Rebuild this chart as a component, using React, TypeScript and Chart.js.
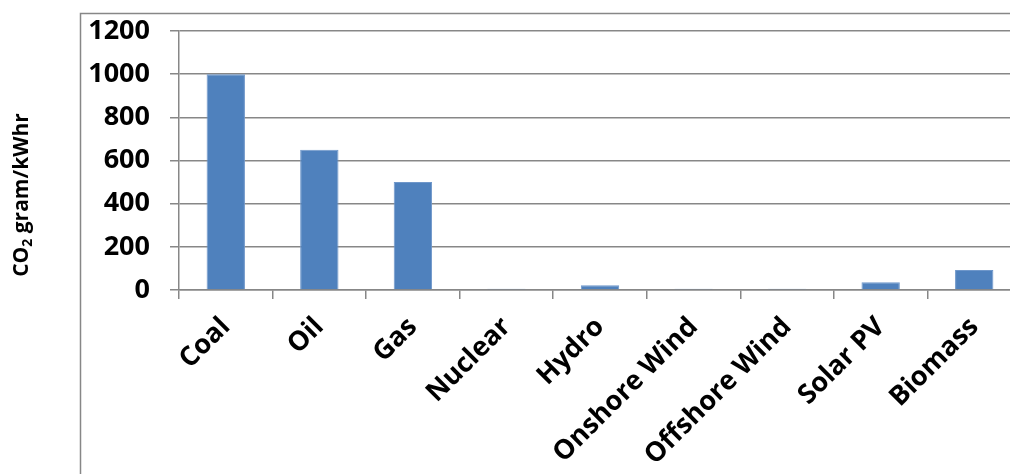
import React, { useEffect, useRef } from "react";
import { Chart, registerables } from "chart.js";

Chart.register(...registerables);

const categories = ["Coal", "Oil", "Gas", "Nuclear", "Hydro", "Onshore Wind", "Offshore Wind", "Solar PV", "Biomass"];
const co2Values = [1000, 650, 500, 6, 22, 6, 6, 36, 93];
const yTicks = [0, 200, 400, 600, 800, 1000, 1200];
const yTitleMain = "CO";
const yTitleSub = "2";
const yTitleRest = " gram/kWhr";

const FONT = "'Open Sans', 'Noto Sans', sans-serif";
const GRAY = "#878787";

const framePlugin = {
  id: "frameAndTitle",
  beforeDraw(chart: any) {
    const ctx = chart.ctx;
    ctx.save();
    ctx.fillStyle = "#ffffff";
    ctx.fillRect(0, 0, chart.width, chart.height);
    ctx.strokeStyle = GRAY;
    ctx.lineWidth = 1.5;
    ctx.strokeRect(80.5, 13.5, chart.width + 50, chart.height + 50);
    ctx.restore();
  },
  afterDraw(chart: any) {
    const ctx = chart.ctx;
    ctx.save();
    ctx.translate(28, 195);
    ctx.rotate(-Math.PI / 2);
    ctx.textBaseline = "alphabetic";
    ctx.fillStyle = "#000000";
    const big = `bold 21px ${FONT}`;
    const small = `bold 14px ${FONT}`;
    ctx.font = big;
    const w1 = ctx.measureText(yTitleMain).width;
    const w3 = ctx.measureText(yTitleRest).width;
    ctx.font = small;
    const w2 = ctx.measureText(yTitleSub).width;
    let x = -(w1 + w2 + w3) / 2;
    ctx.font = big;
    ctx.fillText(yTitleMain, x, 0);
    x += w1;
    ctx.font = small;
    ctx.fillText(yTitleSub, x, 4);
    x += w2;
    ctx.font = big;
    ctx.fillText(yTitleRest, x, 0);
    ctx.restore();
  },
};

export default function App() {
  const ref = useRef<HTMLCanvasElement | null>(null);
  useEffect(() => {
    if (!ref.current) return;
    const chart = new Chart(ref.current, {
      type: "bar",
      data: {
        labels: categories,
        datasets: [
          {
            data: co2Values,
            backgroundColor: "#4F81BD",
            borderColor: "#6f97ca",
            borderWidth: 1,
            barPercentage: 0.41,
            categoryPercentage: 1,
          },
        ],
      },
      options: {
        responsive: false,
        animation: false,
        devicePixelRatio: 1,
        layout: { padding: { left: 0, top: 31, right: 0, bottom: 0 } },
        plugins: { legend: { display: false }, tooltip: { enabled: false } },
        scales: {
          x: {
            grid: { drawOnChartArea: false, color: GRAY, lineWidth: 1.5, tickLength: 9, offset: true },
            border: { color: GRAY, width: 1.5 },
            ticks: {
              minRotation: 45,
              maxRotation: 45,
              autoSkip: false,
              color: "#000000",
              padding: 12,
              font: { family: FONT, size: 27, weight: "bold" },
            },
            afterFit: (scale: any) => {
              scale.height = 184;
              scale.paddingLeft = 0;
              scale.paddingRight = 0;
            },
          },
          y: {
            min: 0,
            max: 1200,
            afterBuildTicks: (scale: any) => {
              scale.ticks = yTicks.map((v) => ({ value: v }));
            },
            grid: { color: GRAY, lineWidth: 1.5, tickLength: 9 },
            border: { color: GRAY, width: 1.5 },
            ticks: {
              color: "#000000",
              padding: 20,
              font: { family: FONT, size: 27, weight: "bold" },
              callback: (v: any) => String(v),
            },
            afterFit: (scale: any) => {
              scale.width = 179;
              scale.paddingTop = 0;
              scale.paddingBottom = 0;
            },
          },
        },
      },
      plugins: [framePlugin],
    });
    return () => chart.destroy();
  }, []);
  return (
    <div style={{ position: "absolute", left: 0, top: 0, width: 1010, height: 474, overflow: "hidden", background: "#fff" }}>
      <canvas ref={ref} width={1021} height={474} style={{ display: "block", width: 1021, height: 474 }} />
    </div>
  );
}
